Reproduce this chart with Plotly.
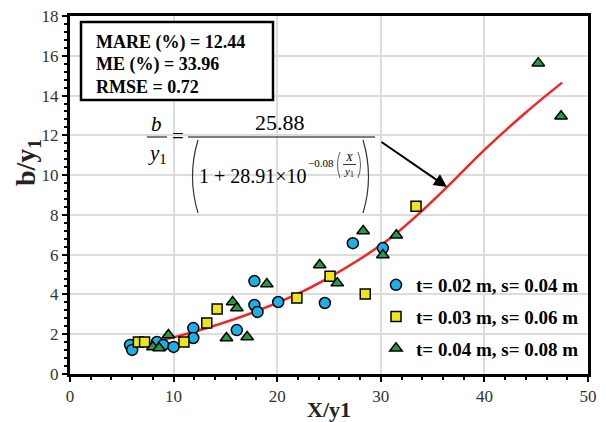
import plotly.graph_objects as go

# ---------------- data ----------------
blue_x = [5.8, 6.0, 8.4, 9.0, 10.0, 11.9, 11.9, 16.1, 17.8, 17.8, 18.1, 20.1, 24.6, 27.3, 30.2]
blue_y = [1.46, 1.21, 1.61, 1.46, 1.36, 2.31, 1.81, 2.21, 4.67, 3.47, 3.12, 3.62, 3.57, 6.58, 6.33]

yellow_x = [6.6, 7.2, 11.0, 13.2, 14.2, 21.9, 25.1, 28.5, 33.4]
yellow_y = [1.61, 1.61, 1.61, 2.56, 3.27, 3.82, 4.92, 4.02, 8.44]

green_x = [8.0, 8.6, 9.5, 15.1, 17.1, 15.7, 16.1, 19.0, 24.1, 25.8, 28.3, 30.2, 31.5, 45.2, 47.4]
green_y = [1.36, 1.31, 1.96, 1.81, 1.86, 3.62, 3.32, 4.52, 5.48, 4.57, 7.19, 5.98, 6.98, 15.63, 12.96]

curve_x = [5.8, 8.0, 10.0, 14.0, 18.0, 22.0, 25.0, 28.0, 31.0, 34.0, 37.0, 40.0, 44.0, 47.5]
curve_y = [1.37, 1.60, 1.84, 2.44, 3.16, 4.04, 4.85, 5.78, 6.86, 8.21, 9.71, 11.27, 13.15, 14.65]

series_names = ["t= 0.02 m, s= 0.04 m", "t= 0.03 m, s= 0.06 m", "t= 0.04 m, s= 0.08 m"]
stats_lines = ["MARE (%) = 12.44", "ME (%) = 33.96", "RMSE = 0.72"]

x_range = [0, 50]
y_range = [0, 18]

# ---------------- layout geometry ----------------
OFF = 8                      # page body margin
W, H = 606 - OFF, 422 - OFF
ML, MT = 70 - OFF, 16 - OFF
PW, PH = 518, 358
MR, MB = W - ML - PW, H - MT - PH
SERIF = "Liberation Serif"


def dx(p):  # reference pixel x -> data x
    return x_range[0] + (p - OFF - ML) / PW * (x_range[1] - x_range[0])


def dy(p):  # reference pixel y -> data y
    return y_range[0] + (MT + PH - (p - OFF)) / PH * (y_range[1] - y_range[0])


fig = go.Figure()

fig.add_trace(go.Scatter(x=curve_x, y=curve_y, mode="lines", line=dict(color="#f22525", width=2.5, shape="spline"),
                         showlegend=False, hoverinfo="skip"))

mk_line = dict(color="black", width=1.5)
fig.add_trace(go.Scatter(x=blue_x, y=blue_y, mode="markers", name="<b>" + series_names[0] + "</b>", legendgroup="a",
                         marker=dict(symbol="circle", size=11, color="#1eaee8", line=mk_line)))
fig.add_trace(go.Scatter(x=yellow_x, y=yellow_y, mode="markers", name="<b>" + series_names[1] + "</b>", legendgroup="b",
                         marker=dict(symbol="square", size=10, color="#ece61a", line=mk_line)))
fig.add_trace(go.Scatter(x=green_x, y=green_y, mode="markers", name="<b>" + series_names[2] + "</b>", legendgroup="c",
                         marker=dict(symbol="triangle-up", size=11, color="#1e9e46", line=mk_line)))

axis_common = dict(
    showline=True, linecolor="black", linewidth=3, mirror=True,
    ticks="outside", tickcolor="black", tickwidth=2, ticklen=5,
    showgrid=True, gridcolor="#dcdcdc", gridwidth=1.5,
    zeroline=False, tickfont=dict(family=SERIF, size=17, color="#333333"),
    automargin=False, ticklabeloverflow="allow",
)

fig.update_xaxes(range=x_range, dtick=10, tick0=0,
                 minor=dict(dtick=2, ticks="outside", ticklen=3, tickwidth=2, tickcolor="black", showgrid=False),
                 title=dict(text="<b>X/y1</b>", font=dict(family=SERIF, size=22, color="#222"), standoff=0),
                 **axis_common)
fig.update_yaxes(range=y_range, dtick=2, tick0=0,
                 minor=dict(dtick=0.4, ticks="outside", ticklen=3, tickwidth=2, tickcolor="black", showgrid=False),
                 **axis_common)

anns = []
shapes = []

# y-axis title (placed like the reference, above the plot centre)
anns.append(dict(xref="paper", yref="y", x=(27 - OFF - ML) / PW, y=dy(163), text="<b>b/y<sub>1</sub></b>",
                 textangle=-90, showarrow=False, xanchor="center", yanchor="middle",
                 font=dict(family=SERIF, size=28, color="#222")))

# stats box
shapes.append(dict(type="rect", xref="x", yref="y", x0=dx(81), x1=dx(273), y0=dy(22), y1=dy(100),
                   line=dict(color="black", width=2.5), fillcolor="white", layer="above"))
for i, line in enumerate(stats_lines):
    anns.append(dict(xref="x", yref="y", x=dx(94), y=dy(42 + 22.5 * i), xanchor="left", yanchor="middle",
                     text="<b>" + line + "</b>", showarrow=False,
                     font=dict(family=SERIF, size=18, color="black")))


def txt(px_, py_, s, size, color="black"):
    anns.append(dict(xref="x", yref="y", x=dx(px_), y=dy(py_), text=s, showarrow=False,
                     font=dict(family=SERIF, size=size, color=color), xanchor="center", yanchor="middle"))


txt(156, 124, "<i>b</i>", 21)
txt(157, 154, "<i>y</i><sub>1</sub>", 21)
txt(178, 136, "=", 21)
txt(280, 122, "25.88", 22)
txt(253, 176, "1 + 28.91×10", 20)
txt(321, 163, "−0.08", 11)
txt(349, 157, "<i>X</i>", 11)
txt(349, 172, "<i>y</i><sub>1</sub>", 11)

# arrow
anns.append(dict(xref="x", yref="y", axref="x", ayref="y", x=dx(447), y=dy(187), ax=dx(380), ay=dy(141),
                 showarrow=True, arrowhead=2, arrowsize=1.3, arrowwidth=2, arrowcolor="black", text=""))


def hline(x0, x1, yy, w=1):
    shapes.append(dict(type="line", xref="x", yref="y", x0=dx(x0), x1=dx(x1), y0=dy(yy), y1=dy(yy),
                       line=dict(color="black", width=w)))


def paren(xe, y0, y1, bulge, w=1.2):
    ym = (y0 + y1) / 2
    path = f"M {dx(xe)},{dy(y0)} Q {dx(xe + bulge)},{dy(ym)} {dx(xe)},{dy(y1)}"
    shapes.append(dict(type="path", xref="x", yref="y", path=path, line=dict(color="#333", width=w)))


hline(147, 167, 137)
hline(188, 375, 137)
hline(343, 356, 164.5, 0.8)
paren(198, 140, 213, -11)
paren(363, 140, 213, 11)
paren(340, 152, 178, -5, 0.8)
paren(358, 152, 178, 5, 0.8)

fig.update_layout(
    width=W, height=H, margin=dict(l=ML, r=MR, t=MT, b=MB),
    paper_bgcolor="white", plot_bgcolor="white",
    annotations=anns, shapes=shapes,
    legend=dict(x=(376 - OFF - ML) / PW, y=(MT + PH - (368 - OFF)) / PH, xanchor="left", yanchor="bottom",
                bgcolor="rgba(0,0,0,0)", font=dict(family=SERIF, size=19, color="black"),
                traceorder="grouped", tracegroupgap=4, itemwidth=30),
)

fig.write_html("out.html")
